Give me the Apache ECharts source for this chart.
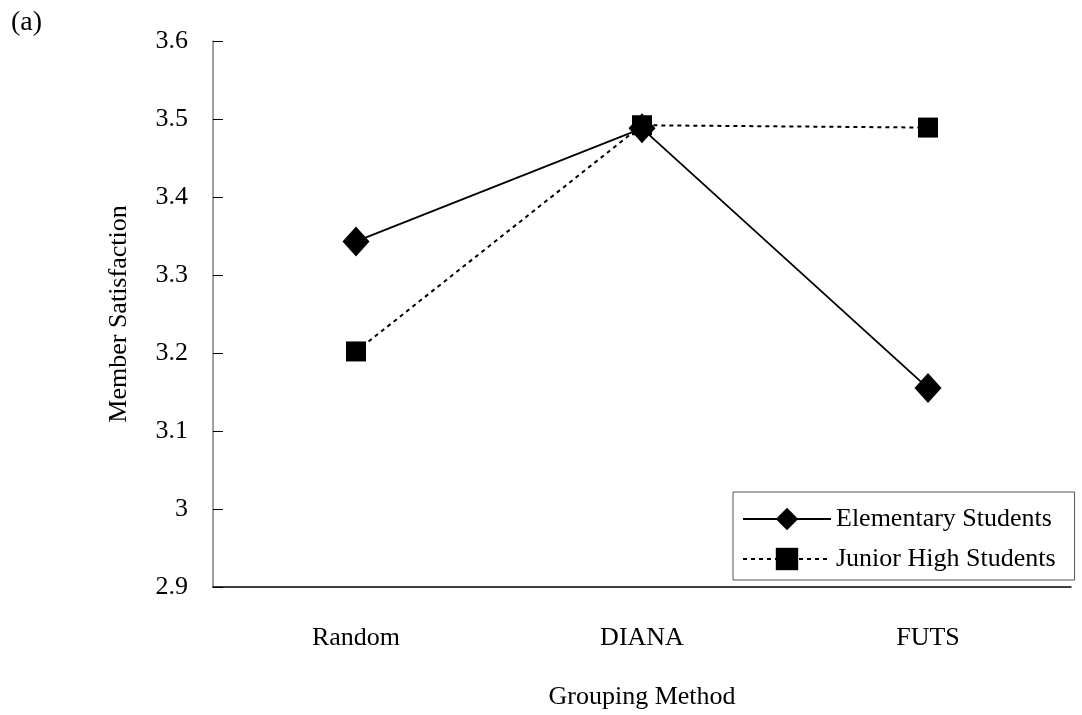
<!DOCTYPE html>
<html>
<head>
<meta charset="utf-8">
<script src="https://cdn.jsdelivr.net/npm/echarts@6/dist/echarts.min.js"></script>
<style>
  html, body { margin: 0; padding: 0; background: #fff; }
  #chart { width: 1082px; height: 715px; }
</style>
</head>
<body>
<div id="chart"></div>
<script>
const methods = ['Random', 'DIANA', 'FUTS']
const elementary = [3.343, 3.488, 3.155]
const juniorHigh = [3.202, 3.492, 3.489]
const yTicks = { min: 2.9, max: 3.6, step: 0.1 }

const font = 'Liberation Serif'

const chart = echarts.init(document.getElementById('chart'))

chart.setOption({
    animation: false,
    backgroundColor: '#fff',
    title: {
        text: '(a)',
        left: 6,
        top: 4,
        textStyle: { fontFamily: font, fontSize: 28, fontWeight: 'normal', color: '#000' }
    },
    grid: { left: 213, top: 41, right: 11, bottom: 126 },
    legend: {
        orient: 'vertical',
        left: 733,
        top: 492,
        padding: [14, 19, 8, 9],
        itemGap: 14,
        itemWidth: 88,
        itemHeight: 28,
        borderColor: '#555',
        borderWidth: 1,
        borderRadius: 0,
        textStyle: { fontFamily: font, fontSize: 26, color: '#000' },
        data: ['Elementary Students', 'Junior High Students']
    },
    xAxis: {
        type: 'category',
        data: methods,
        name: 'Grouping Method',
        nameLocation: 'middle',
        nameGap: 97,
        nameTextStyle: { fontFamily: font, fontSize: 26, color: '#000' },
        axisLine: { lineStyle: { color: '#000', width: 1.5 } },
        axisTick: { inside: true, length: 9, lineStyle: { color: '#000' } },
        axisLabel: { fontFamily: font, fontSize: 26, color: '#000', margin: 38 }
    },
    yAxis: {
        type: 'value',
        min: yTicks.min,
        max: yTicks.max,
        interval: yTicks.step,
        name: 'Member Satisfaction',
        nameLocation: 'middle',
        nameGap: 81,
        nameTextStyle: { fontFamily: font, fontSize: 26, color: '#000' },
        axisLine: { show: true, lineStyle: { color: '#808080', width: 1.5 } },
        axisTick: { show: true, inside: true, length: 10, lineStyle: { color: '#000' } },
        axisLabel: { fontFamily: font, fontSize: 26, color: '#000', margin: 25 },
        splitLine: { show: false }
    },
    series: [
        {
            name: 'Elementary Students',
            type: 'line',
            data: elementary,
            symbol: 'diamond',
            symbolSize: [27, 30],
            itemStyle: { color: '#000' },
            lineStyle: { color: '#000', width: 1.8 },
            z: 3
        },
        {
            name: 'Junior High Students',
            type: 'line',
            data: juniorHigh,
            symbol: 'rect',
            symbolSize: 20,
            itemStyle: { color: '#000' },
            lineStyle: { color: '#000', width: 2, type: [4, 4] },
            z: 2
        }
    ]
})
</script>
</body>
</html>
